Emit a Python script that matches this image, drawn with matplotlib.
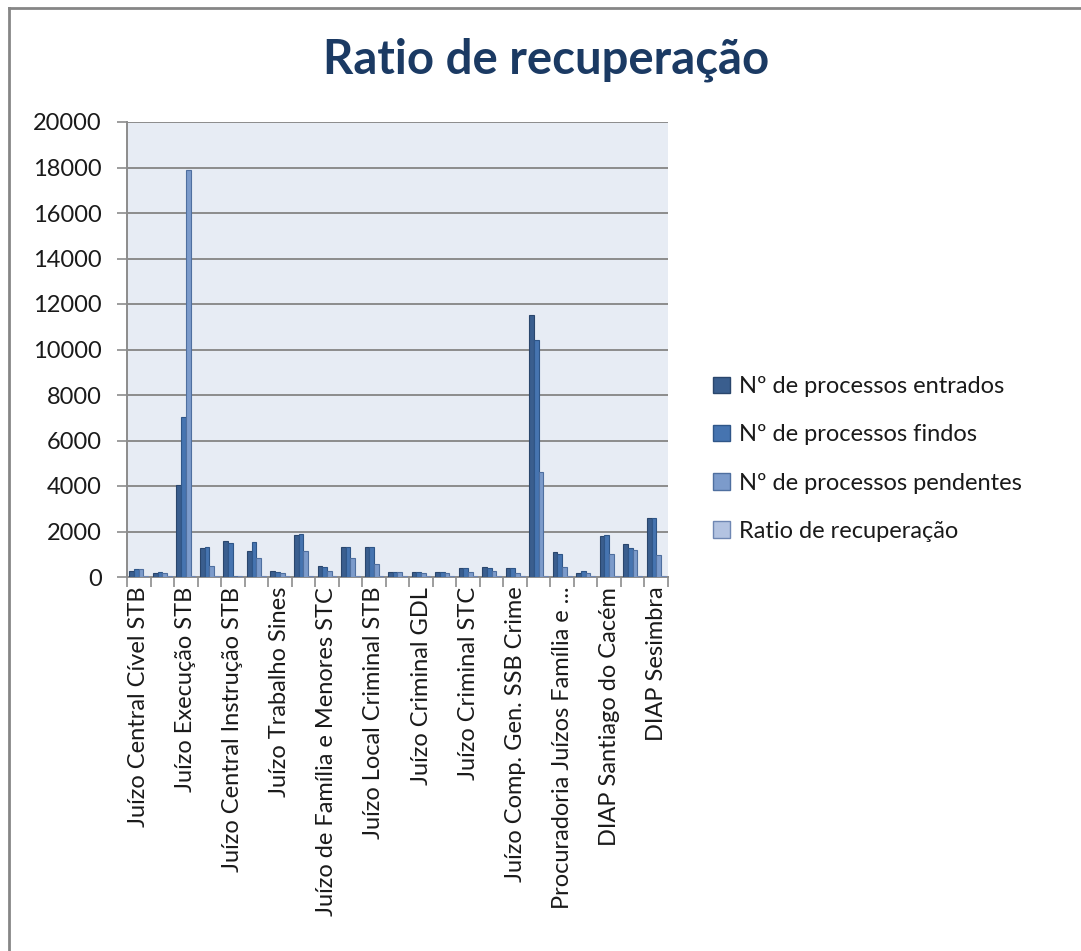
import numpy as np
import matplotlib.pyplot as plt
from matplotlib.lines import Line2D
from matplotlib.patches import Patch

plt.rcParams["font.family"] = ["Lato", "DejaVu Sans"]

# 23 categories, only every other one carries a visible label
tick_labels = [
    "Juízo Central Cível STB",
    "Juízo Execução STB",
    "Juízo Central Instrução STB",
    "Juízo Trabalho Sines",
    "Juízo de Família e Menores STC",
    "Juízo Local Criminal STB",
    "Juízo Criminal GDL",
    "Juízo Criminal STC",
    "Juízo Comp. Gen. SSB Crime",
    "Procuradoria Juízos Família e ...",
    "DIAP Santiago do Cacém",
    "DIAP Sesimbra",
]

entrados = [270, 170, 4050, 1270, 1570, 1130, 285, 1830, 500, 1340, 1340, 230,
            230, 230, 390, 450, 380, 11500, 1110, 190, 1800, 1460, 2600]
findos = [340, 240, 7050, 1340, 1510, 1560, 240, 1890, 430, 1340, 1340, 230,
          230, 230, 390, 390, 380, 10400, 990, 265, 1850, 1290, 2600]
pendentes = [340, 185, 17900, 500, 60, 830, 185, 1160, 285, 830, 560, 230,
             160, 180, 215, 265, 160, 4600, 440, 160, 990, 1170, 950]
ratio = [60, 60, 60, 60, 60, 60, 60, 60, 60, 60, 60, 60,
         60, 60, 60, 60, 60, 60, 60, 60, 60, 60, 60]

series = [
    ("Nº de processos entrados", entrados, "#3A5E8E", "#2A466C"),
    ("Nº de processos findos", findos, "#4674B0", "#2F5688"),
    ("Nº de processos pendentes", pendentes, "#7C9BCB", "#4F6F9F"),
    ("Ratio de recuperação", ratio, "#B3C3E1", "#6F87B3"),
]

fig = plt.figure(figsize=(10.81, 9.51), dpi=100)
ax = fig.add_axes([127 / 1081, 1 - 577 / 951, (668 - 127) / 1081, (577 - 122) / 951])

x = np.arange(len(entrados))
w = 0.2
for i, (name, vals, col, edge) in enumerate(series):
    ax.bar(x + (i - 1.5) * w, vals, width=w, color=col, edgecolor=edge,
           linewidth=0.8, label=name, zorder=3)

ax.set_facecolor("#E7ECF4")
ax.set_xlim(-0.5, len(entrados) - 0.5)
ax.set_ylim(0, 20000)
ax.set_yticks(np.arange(0, 20001, 2000))
ax.yaxis.grid(True, color="#8C8C8C", linewidth=1.4, zorder=0)
ax.tick_params(axis="y", length=7, width=1.2, color="#8C8C8C", pad=11,
               labelsize=17, labelcolor="#1A1A1A")

ax.set_xticks(x[::2])
ax.set_xticklabels(tick_labels, rotation=90, fontsize=17, color="#1A1A1A")
ax.set_xticks(np.arange(-0.5, len(entrados)), minor=True)
ax.tick_params(axis="x", which="major", length=0, pad=7)
ax.tick_params(axis="x", which="minor", length=7, width=1.2, color="#8C8C8C")

for s in ["top", "right"]:
    ax.spines[s].set_visible(False)
for s in ["left", "bottom"]:
    ax.spines[s].set_color("#8C8C8C")
    ax.spines[s].set_linewidth(1.4)

fig.text(546 / 1081, 1 - 60 / 951, "Ratio de recuperação", ha="center",
         va="center", fontsize=34, fontweight="bold", color="#1B3A63")

handles = [Patch(facecolor=c, edgecolor=e, label=n) for n, _, c, e in series]
fig.legend(handles=handles, loc="upper left",
           bbox_to_anchor=(692 / 1081, 1 - 355 / 951), frameon=False,
           fontsize=17, handlelength=0.7, handleheight=0.7,
           handletextpad=0.4, labelspacing=1.15, labelcolor="#1A1A1A")

# outer chart border (top and left edges visible)
fig.add_artist(Line2D([9 / 1081, 9 / 1081], [0, 1 - 8 / 951],
                      color="#868686", linewidth=2))
fig.add_artist(Line2D([9 / 1081, 1], [1 - 8 / 951, 1 - 8 / 951],
                      color="#868686", linewidth=2))

fig.savefig("out.png", dpi=100)
